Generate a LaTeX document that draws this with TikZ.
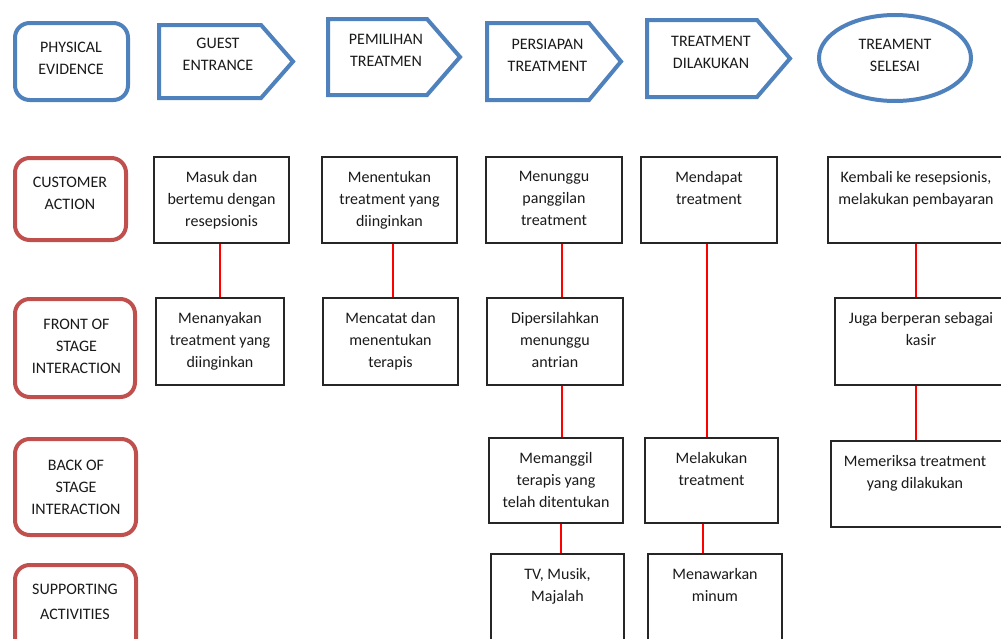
\documentclass[tikz,border=0pt]{standalone}
\usepackage{fontspec}
\setmainfont{Carlito}
\usetikzlibrary{shapes.geometric}
\definecolor{peblue}{HTML}{4F81BD}
\definecolor{lanered}{HTML}{C0504D}
\definecolor{boxline}{HTML}{262626}
\definecolor{txt}{HTML}{1A1A1A}
\tikzset{
  f/.style={font=\fontsize{12}{16.5}\selectfont, text=txt},
  pe/.style={draw=peblue, line width=3pt, line join=miter},
  ttl/.style={f, align=center, inner sep=0pt},
  lane/.style={draw=lanered, line width=3pt, rounded corners=11pt, rectangle, inner sep=0pt},
  box/.style={draw=boxline, line width=1.3pt, rectangle, inner sep=0pt},
  btxt/.style={f, align=center, inner sep=0pt, anchor=north, yshift=-11pt},
  conn/.style={draw=red, line width=1pt}
}
\begin{document}
\begin{tikzpicture}[x=0.75pt,y=-0.75pt]
\useasboundingbox (0,0) rectangle (1001,639);
\clip (0,0) rectangle (1001,639);
\fill[white] (0,0) rectangle (1001,639);

% ---------- top row: physical evidence ----------
\node[pe, rectangle, rounded corners=11pt, minimum width=84.75pt, minimum height=57.75pt] (pe0) at (71.5,61.5) {};
\node[ttl] (pe0t) at (71,58.5) {PHYSICAL\\EVIDENCE};

\draw[pe] (159,25) -- (261,25) -- (293,61.5) -- (261,98) -- (159,98) -- cycle;
\node[ttl] (pe1t) at (218,54) {GUEST\\ENTRANCE};

\draw[pe] (328,19) -- (427,19) -- (460,57) -- (427,95) -- (328,95) -- cycle;
\node[ttl] (pe2t) at (386,50) {PEMILIHAN\\TREATMEN};

\draw[pe] (487,23) -- (589,23) -- (621,61.5) -- (589,100) -- (487,100) -- cycle;
\node[ttl] (pe3t) at (547.5,55) {PERSIAPAN\\TREATMENT};

\draw[pe] (647,20) -- (757,20) -- (790,58.5) -- (757,97) -- (647,97) -- cycle;
\node[ttl] (pe4t) at (711,52.5) {TREATMENT\\DILAKUKAN};

\node[pe, ellipse, minimum width=114pt, minimum height=64.5pt] (pe5) at (895,58) {};
\node[ttl] (pe5t) at (895,55) {TREAMENT\\SELESAI};

% ---------- lanes ----------
\node[lane, minimum width=83.25pt, minimum height=61.5pt] (l1) at (70.5,199) {};
\node[ttl] (l1t) at (70,193.5) {CUSTOMER\\ACTION};
\node[lane, minimum width=90pt, minimum height=73.5pt] (l2) at (75,348) {};
\node[ttl] (l2t) at (76.5,346) {FRONT OF\\STAGE\\INTERACTION};
\node[lane, minimum width=90.75pt, minimum height=72pt] (l3) at (75.5,487) {};
\node[ttl] (l3t) at (76,487) {BACK OF\\STAGE\\INTERACTION};
\node[lane, minimum width=90.75pt, minimum height=86.25pt] (l4) at (75.5,622.5) {};
\node[ttl] (l4t) at (75,601.5) {SUPPORTING\\[2.25pt]ACTIVITIES};

% ---------- column 1 ----------
\node[box, minimum width=101.25pt, minimum height=64.5pt, label={[btxt]north:{Masuk dan\\bertemu dengan\\resepsionis}}] (a1) at (221.5,200) {};
\node[box, minimum width=96pt, minimum height=65.25pt, label={[btxt]north:{Menanyakan\\treatment yang\\diinginkan}}] (a2) at (220,341.5) {};

% ---------- column 2 ----------
\node[box, minimum width=101.25pt, minimum height=64.5pt, label={[btxt]north:{Menentukan\\treatment yang\\diinginkan}}] (b1) at (389.5,200) {};
\node[box, minimum width=101.25pt, minimum height=65.25pt, label={[btxt]north:{Mencatat dan\\menentukan\\terapis}}] (b2) at (390.5,341.5) {};

% ---------- column 3 ----------
\node[box, minimum width=102pt, minimum height=64.5pt, label={[btxt]north:{Menunggu\\panggilan\\treatment}}] (c1) at (554,200) {};
\node[box, minimum width=102pt, minimum height=65.25pt, label={[btxt]north:{Dipersilahkan\\menunggu\\antrian}}] (c2) at (555,341.5) {};
\node[box, minimum width=100.5pt, minimum height=63.75pt, label={[btxt]north:{Memanggil\\terapis yang\\telah ditentukan}}] (c3) at (556,480.5) {};
\node[box, minimum width=99.75pt, minimum height=79.5pt, label={[btxt]north:{TV, Musik,\\Majalah}}] (c4) at (557.5,607) {};

% ---------- column 4 ----------
\node[box, minimum width=102pt, minimum height=64.5pt, label={[btxt]north:{Mendapat\\treatment}}] (d1) at (709,200) {};
\node[box, minimum width=99.75pt, minimum height=63.75pt, label={[btxt]north:{Melakukan\\treatment}}] (d3) at (711.5,480.5) {};
\node[box, minimum width=100.5pt, minimum height=79.5pt, label={[btxt]north:{Menawarkan\\minum}}] (d4) at (715,607) {};

% ---------- column 5 ----------
\node[box, minimum width=136.5pt, minimum height=64.5pt, label={[btxt, xshift=-2.25pt]north:{Kembali ke resepsionis,\\melakukan pembayaran}}] (e1) at (919,200) {};
\node[box, minimum width=131.25pt, minimum height=65.25pt, label={[btxt, xshift=-1.1pt]north:{Juga berperan sebagai\\kasir}}] (e2) at (922.5,341.5) {};
\node[box, minimum width=134.25pt, minimum height=64.5pt, label={[btxt, xshift=-4.1pt]north:{Memeriksa treatment\\yang dilakukan}}] (e3) at (920.5,484) {};

% ---------- connectors ----------
\coordinate (xa) at (220,0);
\coordinate (xb) at (393,0);
\coordinate (xc) at (562,0);
\coordinate (xcc) at (561,0);
\coordinate (xd) at (707,0);
\coordinate (xdd) at (703,0);
\coordinate (xe) at (916,0);
\draw[conn] (a1.south -| xa) -- (a2.north -| xa);
\draw[conn] (b1.south -| xb) -- (b2.north -| xb);
\draw[conn] (c1.south -| xc) -- (c2.north -| xc);
\draw[conn] (c2.south -| xc) -- (c3.north -| xc);
\draw[conn] (c3.south -| xcc) -- (c4.north -| xcc);
\draw[conn] (d1.south -| xd) -- (d3.north -| xd);
\draw[conn] (d3.south -| xdd) -- (d4.north -| xdd);
\draw[conn] (e1.south -| xe) -- (e2.north -| xe);
\draw[conn] (e2.south -| xe) -- (e3.north -| xe);
\end{tikzpicture}
\end{document}
